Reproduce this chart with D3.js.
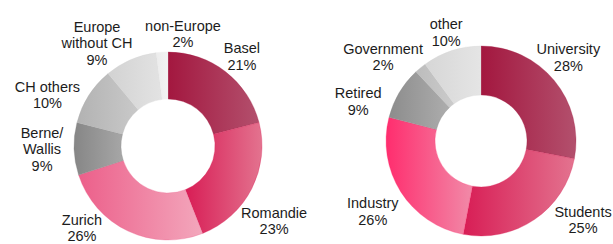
<!DOCTYPE html>
<html>
<head>
<meta charset="utf-8">
<script src="https://cdn.jsdelivr.net/npm/d3@7"></script>
<style>
  body { margin: 0; background: #fff; }
  svg text { font-family: "Liberation Sans", Arial, Helvetica, sans-serif; font-size: 14.5px; fill: #1c1c1c; }
</style>
</head>
<body>
<svg id="plot"></svg>
<script>
var width = 613;
var height = 244;
var svg = d3.select("#plot")
    .attr("width", width)
    .attr("height", height);

// origin chart
var originLabels = [["Basel"], ["Romandie"], ["Zurich"], ["Berne/", "Wallis"], ["CH others"], ["Europe", "without CH"], ["non-Europe"]];
var originValues = [21, 23, 26, 9, 10, 9, 2];

// affiliation chart
var jobLabels = [["University"], ["Students"], ["Industry"], ["Retired"], ["Government"], ["other"]];
var jobValues = [28, 25, 26, 9, 2, 10];

// gradient colours (left -> right) per slice
var originColors = [
    ["#a3173f", "#b3506d"], ["#d81d55", "#e3738f"], ["#ec5f8a", "#f3a7bc"],
    ["#868686", "#a7a7a7"], ["#b2b2b2", "#c9c9c9"], ["#d2d2d2", "#e3e3e3"], ["#ececec", "#f3f3f3"]
];
var jobColors = [
    ["#a3173f", "#b3506d"], ["#d81d55", "#e3738f"], ["#ff2d6e", "#f18aa8"],
    ["#8c8c8c", "#adadad"], ["#bcbcbc", "#cbcbcb"], ["#d6d6d6", "#e5e5e5"]
];

// label placement: [angle shift from slice middle (deg), radius]
var originLabelPos = [[1.8, 116], [8.3, 130], [21.2, 118.8], [0.4, 126], [-9.4, 131], [-11.2, 125], [11.2, 113]];
var jobLabelPos = [[-4.2, 121], [-18.1, 129], [-0.6, 129], [-12.8, 129], [-9.8, 129], [0.2, 114]];

var defs = svg.append("defs");

function donut(id, cx, cy, rOuter, rInner, labels, values, colors, labelPos) {
    var pie = d3.pie().sort(null).value(function (d) { return d; });
    var arcs = pie(values);
    var arc = d3.arc().innerRadius(rInner).outerRadius(rOuter);
    var g = svg.append("g").attr("transform", "translate(" + cx + "," + cy + ")");

    arcs.forEach(function (a, i) {
        var grad = defs.append("linearGradient")
            .attr("id", id + "-g" + i)
            .attr("x1", 0).attr("y1", 0).attr("x2", 1).attr("y2", 0);
        grad.append("stop").attr("offset", "0%").attr("stop-color", colors[i][0]);
        grad.append("stop").attr("offset", "100%").attr("stop-color", colors[i][1]);
    });

    g.selectAll("path")
        .data(arcs)
        .enter()
        .append("path")
        .attr("d", arc)
        .attr("fill", function (d, i) { return "url(#" + id + "-g" + i + ")"; })
        .attr("stroke", function (d, i) { return colors[i][0]; })
        .attr("stroke-width", 0.3);

    var lineH = 16.5;
    g.selectAll("text.label")
        .data(arcs)
        .enter()
        .append("text")
        .attr("class", "label")
        .attr("text-anchor", "middle")
        .each(function (d, i) {
            var mid = (d.startAngle + d.endAngle) / 2 + labelPos[i][0] * Math.PI / 180;
            var r = labelPos[i][1];
            var x = r * Math.sin(mid);
            var y = -r * Math.cos(mid);
            var lines = labels[i].concat([d.data + "%"]);
            var y0 = y - (lines.length - 1) * lineH / 2 + 5;
            var t = d3.select(this);
            lines.forEach(function (l, k) {
                t.append("tspan").attr("x", x).attr("y", y0 + k * lineH).text(l);
            });
        });
}

donut("origin", 168, 146, 94, 47, originLabels, originValues, originColors, originLabelPos);
donut("job", 481, 141, 95, 46, jobLabels, jobValues, jobColors, jobLabelPos);
</script>
</body>
</html>
